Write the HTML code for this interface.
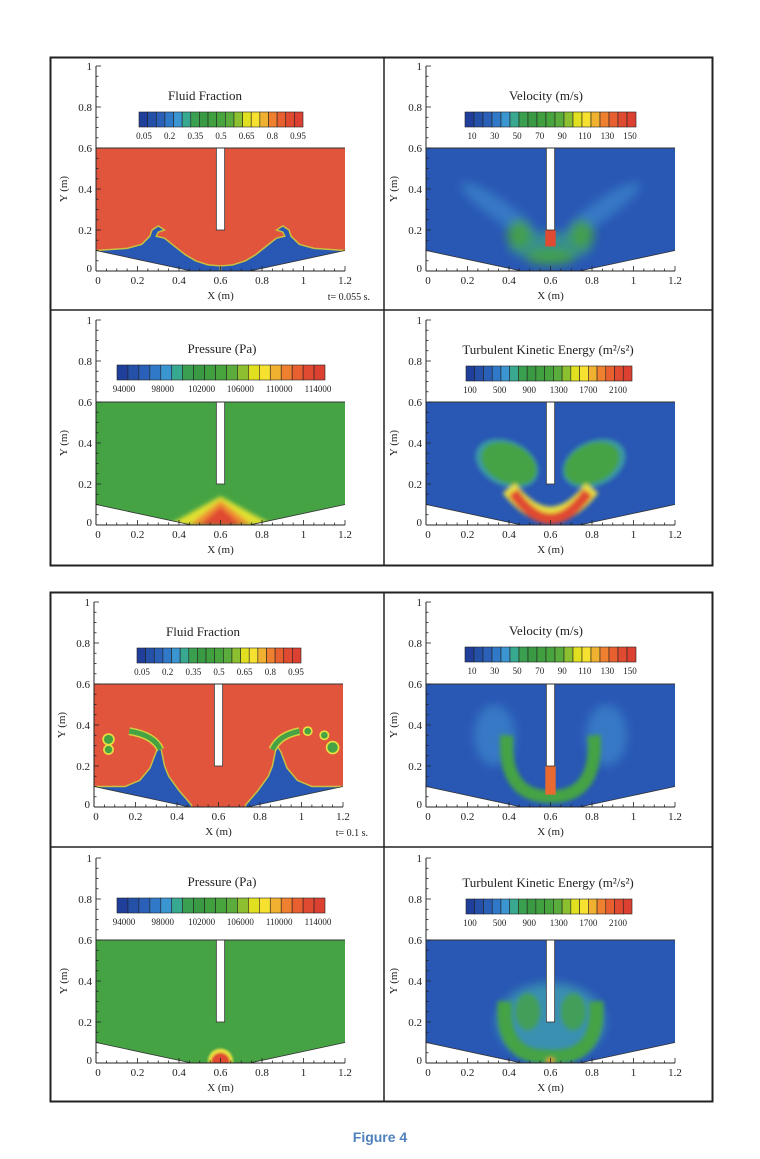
<!DOCTYPE html>
<html><head><meta charset="utf-8"><style>
html,body{margin:0;padding:0;background:#fff;}
svg{display:block;}
text{font-family:"Liberation Serif",serif;}
</style></head><body>
<svg id="fig" width="760" height="1159" viewBox="0 0 760 1159"></svg>
<script>
const xTicks=[0,0.2,0.4,0.6,0.8,1,1.2];
const xTickLabels=['0','0.2','0.4','0.6','0.8','1','1.2'];
const yTicks=[0,0.2,0.4,0.6,0.8,1];
const yTickLabels=['0','0.2','0.4','0.6','0.8','1'];
const ffLabels=['0.05','0.2','0.35','0.5','0.65','0.8','0.95'];
const velLabels=['10','30','50','70','90','110','130','150'];
const presLabels=['94000','98000','102000','106000','110000','114000'];
const tkeLabels=['100','500','900','1300','1700','2100'];
const palette=['#1f3f9a','#2450a8','#2a60b8','#3078c8','#3a95d0','#38a890','#3aa050','#3a9a44','#40a040','#48a43c','#5aac3c','#8cc030','#e0e020','#f6e030','#f0b030','#ee8030','#e86030','#e04a30','#dc4030'];
const RED='#e2553d',BLUE='#2857b4',GREEN='#45a344',LB='#3f8fd0';
const svg=document.getElementById('fig');
const NS='http://www.w3.org/2000/svg';
function el(tag,attrs,parent){const e=document.createElementNS(NS,tag);for(const k in attrs)e.setAttribute(k,attrs[k]);(parent||svg).appendChild(e);return e;}
function txt(s,x,y,size,anchor,parent,fill){const t=el('text',{x:x,y:y,'font-size':size,'text-anchor':anchor||'middle',fill:fill||'#222'},parent);t.textContent=s;return t;}

el('rect',{x:50.5,y:57.5,width:662,height:508,fill:'none',stroke:'#222','stroke-width':2});
el('line',{x1:384,y1:57,x2:384,y2:565,stroke:'#222','stroke-width':1.5});
el('line',{x1:50,y1:310,x2:712,y2:310,stroke:'#222','stroke-width':1.5});
el('rect',{x:50.5,y:592.5,width:662,height:509,fill:'none',stroke:'#222','stroke-width':2});
el('line',{x1:384,y1:592,x2:384,y2:1102,stroke:'#222','stroke-width':1.5});
el('line',{x1:50,y1:847,x2:712,y2:847,stroke:'#222','stroke-width':1.5});

function panel(name,ox,oy,title,labels,cb,draw,tlabel){
  const g=el('g',{},svg);
  
  
  const sx=207.5,sy=205;
  const X=v=>ox+v*sx, Y=v=>oy-v*sy;
  const P=pts=>pts.map((p,i)=>(i?'L':'M')+X(p[0]).toFixed(1)+' '+Y(p[1]).toFixed(1)).join(' ')+'Z';
  const cid='clip-'+name;
  const cp=el('clipPath',{id:cid},g);
  el('path',{d:P([[0,0.1],[0.46,0],[0.74,0],[1.2,0.1],[1.2,0.6],[0,0.6]])},cp);
  const fg=el('g',{'clip-path':'url(#'+cid+')'},g);
  
  
  draw(fg,X,Y,P,sx,sy);
  el('rect',{x:X(0.58),y:Y(0.6),width:X(0.62)-X(0.58),height:Y(0.2)-Y(0.6),fill:'#fff',stroke:'#333','stroke-width':0.8},g);
  el('line',{x1:X(0),y1:Y(0.6),x2:X(1.2),y2:Y(0.6),stroke:'#333','stroke-width':1},g);
  el('path',{d:'M'+X(0)+' '+Y(0.1)+' L'+X(0.46)+' '+Y(0)+' M'+X(0.74)+' '+Y(0)+' L'+X(1.2)+' '+Y(0.1),stroke:'#333','stroke-width':0.8,fill:'none'},g);
  el('line',{x1:X(0),y1:Y(0),x2:X(1.2),y2:Y(0),stroke:'#222','stroke-width':1},g);
  el('line',{x1:X(0),y1:Y(0),x2:X(0),y2:Y(1),stroke:'#222','stroke-width':1},g);
  for(let i=0;i<=24;i++){const v=i*0.05;const L=(i%4===0)?5:2.5;el('line',{x1:X(v),y1:Y(0),x2:X(v),y2:Y(0)-L,stroke:'#222','stroke-width':0.8},g);}
  for(let i=0;i<=20;i++){const v=i*0.05;const L=(i%4===0)?5:2.5;el('line',{x1:X(0),y1:Y(v),x2:X(0)+L,y2:Y(v),stroke:'#222','stroke-width':0.8},g);}
  xTicks.forEach((v,i)=>txt(xTickLabels[i],X(v)+(i===0?2:0),Y(0)+13,11,'middle',g));
  yTicks.forEach((v,i)=>txt(yTickLabels[i],X(0)-4,Y(v)+(i===0?1:4),11,'end',g));
  const yl=txt('Y (m)',0,0,11,'middle',g);yl.setAttribute('transform','translate('+(X(0)-29)+','+Y(0.4)+') rotate(-90)');
  txt('X (m)',X(0.6),Y(0)+28,11,'middle',g);
  txt(title,cb.tx,cb.y-12,13,'middle',g);
  const n=palette.length,w=(cb.x2-cb.x1)/n;
  for(let i=0;i<n;i++){el('rect',{x:cb.x1+i*w,y:cb.y,width:w,height:15,fill:palette[i],stroke:'#222','stroke-width':0.6},g);}
  labels.forEach((s,i)=>{const lx=cb.l1+(cb.l2-cb.l1)*i/(labels.length-1);txt(s,lx,cb.y+27,9,'middle',g);});
  if(tlabel)txt(tlabel,X(1.2)+25,Y(0)+29,10,'end',g);
  return g;
}
function blob(g,X,Y,cx,cy,rx,ry,color,op,rot){
  const e=el('ellipse',{cx:X(cx),cy:Y(cy),rx:rx*207.5,ry:ry*205,fill:color,opacity:op===undefined?1:op},g);
  if(rot)e.setAttribute('transform','rotate('+rot+' '+X(cx)+' '+Y(cy)+')');
  return e;
}
function blurDef(id,s){const f=el('filter',{id:id,x:'-50%',y:'-50%',width:'200%',height:'200%'});el('feGaussianBlur',{stdDeviation:s},f);}
blurDef('b2',2);blurDef('b5',5);blurDef('b1',1);
const mir=L=>L.map(p=>[1.2-p[0],p[1]]);

panel('fluid-fraction-t0055',96,271,'Fluid Fraction',ffLabels,{x1:139,x2:303,y:112,l1:144,l2:298,tx:205},(g,X,Y,P)=>{
  el('rect',{x:0,y:0,width:760,height:1159,fill:RED},g);
  const L=[[0,0.1],[0.15,0.11],[0.22,0.13],[0.26,0.17],[0.27,0.2],[0.3,0.22],[0.33,0.2],[0.3,0.19],[0.29,0.17],[0.33,0.16],[0.38,0.12],[0.43,0.08],[0.48,0.05],[0.54,0.03],[0.6,0.025],[0.6,-0.1],[0,-0.1]];
  el('path',{d:P(L),fill:BLUE,stroke:'#c8c040','stroke-width':1.5},g);
  el('path',{d:P(mir(L)),fill:BLUE,stroke:'#c8c040','stroke-width':1.5},g);
},'t= 0.055 s.');

panel('velocity-t0055',426,271,'Velocity (m/s)',velLabels,{x1:465,x2:636,y:112,l1:472,l2:630,tx:546},(g,X,Y,P)=>{
  el('rect',{x:0,y:0,width:760,height:1159,fill:BLUE},g);
  const f=el('g',{filter:'url(#b5)'},g);
  blob(f,X,Y,0.35,0.3,0.22,0.05,LB,0.6,35);
  blob(f,X,Y,0.85,0.3,0.22,0.05,LB,0.6,-35);
  blob(f,X,Y,0.6,0.12,0.2,0.07,'#3c9a8a',0.8);
  blob(f,X,Y,0.45,0.18,0.06,0.07,GREEN,0.9);
  blob(f,X,Y,0.75,0.18,0.06,0.07,GREEN,0.9);
  blob(f,X,Y,0.6,0.07,0.12,0.04,GREEN,0.9);
  el('rect',{x:X(0.575),y:Y(0.2),width:X(0.625)-X(0.575),height:Y(0.12)-Y(0.2),fill:'#e04a30'},g);
});

panel('pressure-t0055',96,525,'Pressure (Pa)',presLabels,{x1:117,x2:325,y:365,l1:124,l2:318,tx:222},(g,X,Y,P)=>{
  el('rect',{x:0,y:0,width:760,height:1159,fill:GREEN},g);
  const f=el('g',{filter:'url(#b2)'},g);
  el('path',{d:P([[0.35,0],[0.6,0.14],[0.85,0]]),fill:'#e0e030'},f);
  el('path',{d:P([[0.45,0],[0.6,0.12],[0.75,0]]),fill:'#ee9030'},f);
  el('path',{d:P([[0.5,0],[0.6,0.09],[0.7,0]]),fill:'#e04a30'},f);
});

panel('tke-t0055',426,525,'Turbulent Kinetic Energy (m²/s²)',tkeLabels,{x1:466,x2:632,y:366,l1:470,l2:618,tx:548},(g,X,Y,P)=>{
  el('rect',{x:0,y:0,width:760,height:1159,fill:BLUE},g);
  const f=el('g',{filter:'url(#b2)'},g);
  blob(f,X,Y,0.39,0.3,0.16,0.11,'#3fa8a0',0.8,25);
  blob(f,X,Y,0.81,0.3,0.16,0.11,'#3fa8a0',0.8,-25);
  blob(f,X,Y,0.4,0.3,0.14,0.095,GREEN,1,25);
  blob(f,X,Y,0.8,0.3,0.14,0.095,GREEN,1,-25);
  el('path',{d:'M'+X(0.4)+' '+Y(0.18)+' Q'+X(0.6)+' '+Y(-0.08)+' '+X(0.8)+' '+Y(0.18),stroke:'#e8e040','stroke-width':16,fill:'none'},f);
  el('path',{d:'M'+X(0.42)+' '+Y(0.16)+' Q'+X(0.6)+' '+Y(-0.1)+' '+X(0.78)+' '+Y(0.16),stroke:'#e04a30','stroke-width':11,fill:'none'},f);
});

panel('fluid-fraction-t01',94,807,'Fluid Fraction',ffLabels,{x1:137,x2:301,y:648,l1:142,l2:296,tx:203},(g,X,Y,P)=>{
  el('rect',{x:0,y:0,width:760,height:1159,fill:RED},g);
  const L=[[0,0.1],[0.15,0.1],[0.22,0.13],[0.27,0.19],[0.3,0.27],[0.32,0.3],[0.33,0.25],[0.34,0.2],[0.36,0.15],[0.41,0.08],[0.47,0.01],[0.47,-0.1],[0,-0.1]];
  el('path',{d:P(L),fill:BLUE,stroke:'#c8c040','stroke-width':1.5},g);
  el('path',{d:P(mir(L)),fill:BLUE,stroke:'#c8c040','stroke-width':1.5},g);
  el('path',{d:'M'+X(0.17)+' '+Y(0.37)+' Q'+X(0.29)+' '+Y(0.35)+' '+X(0.32)+' '+Y(0.28),stroke:'#d8d040','stroke-width':8,fill:'none'},g);
  el('path',{d:'M'+X(0.99)+' '+Y(0.37)+' Q'+X(0.89)+' '+Y(0.35)+' '+X(0.86)+' '+Y(0.28),stroke:'#d8d040','stroke-width':8,fill:'none'},g);
  el('path',{d:'M'+X(0.17)+' '+Y(0.37)+' Q'+X(0.29)+' '+Y(0.35)+' '+X(0.32)+' '+Y(0.28),stroke:GREEN,'stroke-width':5,fill:'none'},g);
  el('path',{d:'M'+X(0.99)+' '+Y(0.37)+' Q'+X(0.89)+' '+Y(0.35)+' '+X(0.86)+' '+Y(0.28),stroke:GREEN,'stroke-width':5,fill:'none'},g);
  [[0.07,0.33,0.022],[0.07,0.28,0.018],[1.03,0.37,0.016],[1.11,0.35,0.016],[1.15,0.29,0.025]].forEach(b=>{
    blob(g,X,Y,b[0],b[1],b[2]+0.008,b[2]+0.008,'#e8e040');blob(g,X,Y,b[0],b[1],b[2],b[2],GREEN);});
},'t= 0.1 s.');

panel('velocity-t01',426,807,'Velocity (m/s)',velLabels,{x1:465,x2:636,y:647,l1:472,l2:630,tx:546},(g,X,Y,P)=>{
  el('rect',{x:0,y:0,width:760,height:1159,fill:BLUE},g);
  const f=el('g',{filter:'url(#b5)'},g);
  blob(f,X,Y,0.33,0.35,0.1,0.15,LB,0.6);
  blob(f,X,Y,0.87,0.35,0.1,0.15,LB,0.6);
  const f2=el('g',{filter:'url(#b2)'},g);
  el('path',{d:'M'+X(0.39)+' '+Y(0.35)+' Q'+X(0.37)+' '+Y(0.05)+' '+X(0.6)+' '+Y(0.05)+' Q'+X(0.83)+' '+Y(0.05)+' '+X(0.81)+' '+Y(0.35),stroke:GREEN,'stroke-width':13,fill:'none'},f2);
  el('rect',{x:X(0.575),y:Y(0.2),width:X(0.625)-X(0.575),height:Y(0.06)-Y(0.2),fill:'#e86a30'},g);
});

panel('pressure-t01',96,1063,'Pressure (Pa)',presLabels,{x1:117,x2:325,y:898,l1:124,l2:318,tx:222},(g,X,Y,P)=>{
  el('rect',{x:0,y:0,width:760,height:1159,fill:GREEN},g);
  const f=el('g',{filter:'url(#b1)'},g);
  blob(f,X,Y,0.6,0.01,0.06,0.06,'#e8e040');
  blob(f,X,Y,0.6,0.005,0.045,0.045,'#e04a30');
});

panel('tke-t01',426,1063,'Turbulent Kinetic Energy (m²/s²)',tkeLabels,{x1:466,x2:632,y:899,l1:470,l2:618,tx:548},(g,X,Y,P)=>{
  el('rect',{x:0,y:0,width:760,height:1159,fill:BLUE},g);
  const f=el('g',{filter:'url(#b5)'},g);
  blob(f,X,Y,0.6,0.2,0.26,0.19,'#3f9fb0',0.8);
  const f2=el('g',{filter:'url(#b2)'},g);
  el('path',{d:'M'+X(0.38)+' '+Y(0.3)+' Q'+X(0.36)+' '+Y(0.02)+' '+X(0.6)+' '+Y(0.03)+' Q'+X(0.84)+' '+Y(0.02)+' '+X(0.82)+' '+Y(0.3),stroke:GREEN,'stroke-width':14,fill:'none'},f2);
  blob(f2,X,Y,0.49,0.25,0.06,0.09,GREEN,0.8);
  blob(f2,X,Y,0.71,0.25,0.06,0.09,GREEN,0.8);
  blob(f2,X,Y,0.6,0.01,0.02,0.015,'#e8a030');
});

const cap=el('text',{x:380,y:1142,'font-size':14,'text-anchor':'middle',fill:'#4f81bd','font-weight':'bold',style:'font-family:"Liberation Sans",sans-serif'});
cap.textContent='Figure 4';


</script>
</body></html>
